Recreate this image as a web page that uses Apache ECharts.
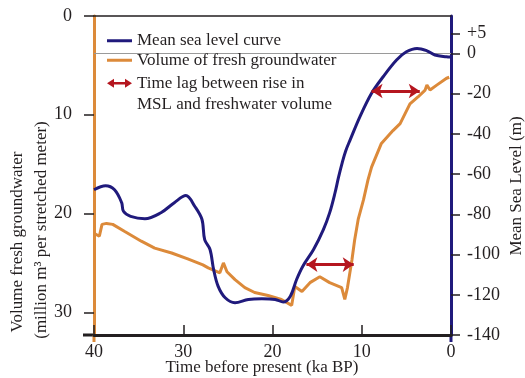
<!DOCTYPE html>
<html>
<head>
<meta charset="utf-8">
<script src="https://cdn.jsdelivr.net/npm/echarts@6/dist/echarts.min.js"></script>
<style>
  html, body { margin: 0; padding: 0; background: #fff; }
  #chart { width: 525px; height: 378px; }
</style>
</head>
<body>
<div id="chart"></div>
<script>
// mean sea level (m) against age (ka BP)
var mslAge = [40.0, 38.7, 37.7, 36.9, 36.7, 35.9, 34.3, 32.5, 31.0, 29.7, 28.7, 27.9, 27.6, 27.0,
  26.6, 26.1, 25.3, 24.2, 22.7, 21.2, 19.7, 18.8, 18.0, 17.3, 16.6, 15.4, 14.3, 13.6, 13.0,
  12.6, 12.2, 11.8, 11.3, 10.2, 8.9, 7.6, 6.1, 5.0, 3.8, 2.7, 1.8, 0.5, 0.1];
var mslLevel = [-67.8, -65.8, -67.8, -74.2, -78.5, -81.0, -82.2, -79.2, -74.2, -70.7, -76.1, -82.6, -92.6, -97.5,
  -107.4, -115.7, -121.5, -124.0, -122.3, -122.0, -122.3, -123.6, -120.7, -112.4, -105.8, -97.5, -87.6, -79.3, -69.4,
  -61.5, -54.5, -48.5, -43.0, -31.4, -19.8, -11.6, -3.3, 0.8, 2.5, 1.3, -0.8, -1.7, -1.8];

// fresh groundwater volume (million m3 per stretched meter)
var gwAge = [40.0, 39.4, 39.1, 38.6, 37.9, 36.6, 34.7, 33.2, 31.3, 29.5, 27.8, 27.2, 25.9, 25.5, 25.1,
  24.2, 23.1, 22.0, 20.5, 19.0, 17.85, 17.5, 16.7, 15.8, 14.7, 13.6, 12.25, 11.9, 11.6, 11.1, 10.8,
  10.4, 9.8, 9.3, 8.9, 7.8, 6.5, 5.7, 4.6, 3.7, 2.9, 2.7, 2.35, 1.6, 0.5, 0.2];
var gwVolume = [22.0, 22.3, 21.1, 21.0, 21.1, 21.8, 22.8, 23.5, 24.0, 24.6, 25.2, 25.5, 26.0, 25.0, 25.9,
  26.7, 27.5, 28.0, 28.3, 28.7, 29.3, 27.4, 27.9, 27.0, 26.4, 27.0, 27.5, 28.7, 27.5, 24.7, 22.7,
  20.6, 18.6, 16.6, 15.3, 12.9, 11.6, 10.9, 8.9, 8.2, 7.5, 7.0, 7.5, 7.0, 6.3, 6.2];

// time lag arrows (ka BP) at a sea level (m)
var lagFrom = [16.2, 8.9];
var lagTo = [10.9, 3.5];
var lagLevel = [-105, -18.7];

var mslTicks = [-140, -120, -100, -80, -60, -40, -20, 0, 10];
var mslTickNames = { '10': '+5' };

var NAVY = '#201a7c';
var ORANGE = '#dc8a3a';
var RED = '#b5161f';
var INK = '#231f20';
var FONT = '"Liberation Serif", "Times New Roman", serif';

var mslName = 'Mean sea level curve';
var gwName = 'Volume of fresh groundwater';
var lagName = 'Time lag between rise in MSL and freshwater volume';

var chart = echarts.init(document.getElementById('chart'));

function zip(a, b) {
  return a.map(function (v, i) { return [v, b[i]]; });
}

var lagLines = lagFrom.map(function (v, i) {
  return [{ coord: [v, lagLevel[i]] }, { coord: [lagTo[i], lagLevel[i]] }];
});

var option = {
  animation: false,
  textStyle: { fontFamily: FONT, color: INK },
  grid: { left: 94, right: 74, top: 16, bottom: 43, outerBoundsMode: 'none' },
  legend: [
    {
      data: [mslName, gwName],
      orient: 'vertical',
      left: 107, top: 31,
      padding: 0, itemGap: 0,
      itemWidth: 25, itemHeight: 3,
      icon: 'rect',
      selectedMode: false,
      textStyle: { fontFamily: FONT, fontSize: 17, color: INK, lineHeight: 19.5 }
    },
    {
      data: [lagName],
      orient: 'vertical',
      left: 107, top: 51,
      padding: 0,
      itemWidth: 25, itemHeight: 9,
      icon: 'path://M0,4.5 L7,0 L7,3.3 L18,3.3 L18,0 L25,4.5 L18,9 L18,5.7 L7,5.7 L7,9 Z',
      selectedMode: false,
      formatter: function () { return '\nTime lag between rise in\nMSL and freshwater volume'; },
      textStyle: { fontFamily: FONT, fontSize: 17, color: INK, lineHeight: 21.5 }
    }
  ],
  xAxis: [
    {
      type: 'value',
      inverse: true,
      min: 0, max: 40, interval: 10,
      name: 'Time before present (ka BP)',
      nameLocation: 'middle',
      nameGap: 24,
      nameMoveOverlap: false,
      nameTextStyle: { fontFamily: FONT, fontSize: 17, color: INK, padding: [0, 21, 0, 0] },
      axisLine: { onZero: false, lineStyle: { color: INK, width: 3 } },
      axisTick: { inside: true, length: 10, lineStyle: { color: INK, width: 1.5 } },
      axisLabel: { margin: 8, fontFamily: FONT, fontSize: 18, color: INK },
      splitLine: { show: false }
    },
    {
      type: 'value',
      position: 'top',
      inverse: true,
      min: 0, max: 40,
      axisLine: { onZero: false, lineStyle: { color: INK, width: 1.5 } },
      axisTick: { show: false },
      axisLabel: { show: false },
      splitLine: { show: false }
    }
  ],
  yAxis: [
    {
      type: 'value',
      inverse: true,
      min: 0, max: 32.3, interval: 10,
      axisLine: { show: true, onZero: false, lineStyle: { color: ORANGE, width: 3 } },
      axisTick: { show: true, length: 10, lineStyle: { color: INK, width: 1.5 } },
      axisLabel: { margin: 22, fontFamily: FONT, fontSize: 18, color: INK,
        showMaxLabel: false },
      splitLine: { show: false }
    },
    {
      type: 'value',
      position: 'right',
      min: -140, max: 18.6,
      axisLine: { show: true, onZero: false, lineStyle: { color: NAVY, width: 3 } },
      axisTick: { show: true, length: 9, customValues: mslTicks,
        lineStyle: { color: INK, width: 1.5 } },
      axisLabel: { margin: 16, fontFamily: FONT, fontSize: 18, color: INK,
        customValues: mslTicks,
        formatter: function (v) { return mslTickNames[v] || String(v); } },
      splitLine: { show: false }
    }
  ],
  series: [
    {
      name: gwName,
      type: 'line',
      yAxisIndex: 0,
      data: zip(gwAge, gwVolume),
      showSymbol: false,
      color: ORANGE,
      lineStyle: { color: ORANGE, width: 3 },
      z: 2
    },
    {
      name: mslName,
      type: 'line',
      yAxisIndex: 1,
      data: zip(mslAge, mslLevel),
      showSymbol: false,
      smooth: 0.35,
      color: NAVY,
      lineStyle: { color: NAVY, width: 3 },
      z: 3,
      markLine: {
        silent: true,
        symbol: 'none',
        label: { show: false },
        lineStyle: { color: '#9a9a9a', width: 1, type: 'solid' },
        data: [{ yAxis: 0 }],
        z: 1
      }
    },
    {
      name: lagName,
      type: 'line',
      yAxisIndex: 1,
      data: [],
      color: RED,
      markLine: {
        silent: true,
        symbol: ['arrow', 'arrow'],
        symbolSize: 11,
        label: { show: false },
        lineStyle: { color: RED, width: 3, type: 'solid' },
        data: lagLines
      },
      z: 4
    }
  ],
  graphic: [
    { type: 'rect', shape: { x: 83, y: 333.5, width: 12, height: 3 }, style: { fill: INK }, silent: true },
    { type: 'rect', shape: { x: 92.5, y: 335, width: 3, height: 7 }, style: { fill: ORANGE }, silent: true },
    { type: 'rect', shape: { x: 449.5, y: 335, width: 3, height: 7 }, style: { fill: NAVY }, silent: true },
    {
      type: 'text', x: 18, y: 242, rotation: Math.PI / 2,
      style: { text: 'Volume fresh groundwater', font: '17px ' + FONT, fill: INK,
        textAlign: 'center', textVerticalAlign: 'middle' }
    },
    {
      type: 'text', x: 42, y: 230, rotation: Math.PI / 2,
      style: { text: '(million m\u00b3 per stretched meter)', font: '17px ' + FONT, fill: INK,
        textAlign: 'center', textVerticalAlign: 'middle' }
    },
    {
      type: 'text', x: 517, y: 186, rotation: Math.PI / 2,
      style: { text: 'Mean Sea Level (m)', font: '17px ' + FONT, fill: INK,
        textAlign: 'center', textVerticalAlign: 'middle' }
    }
  ]
};

chart.setOption(option);
</script>
</body>
</html>
